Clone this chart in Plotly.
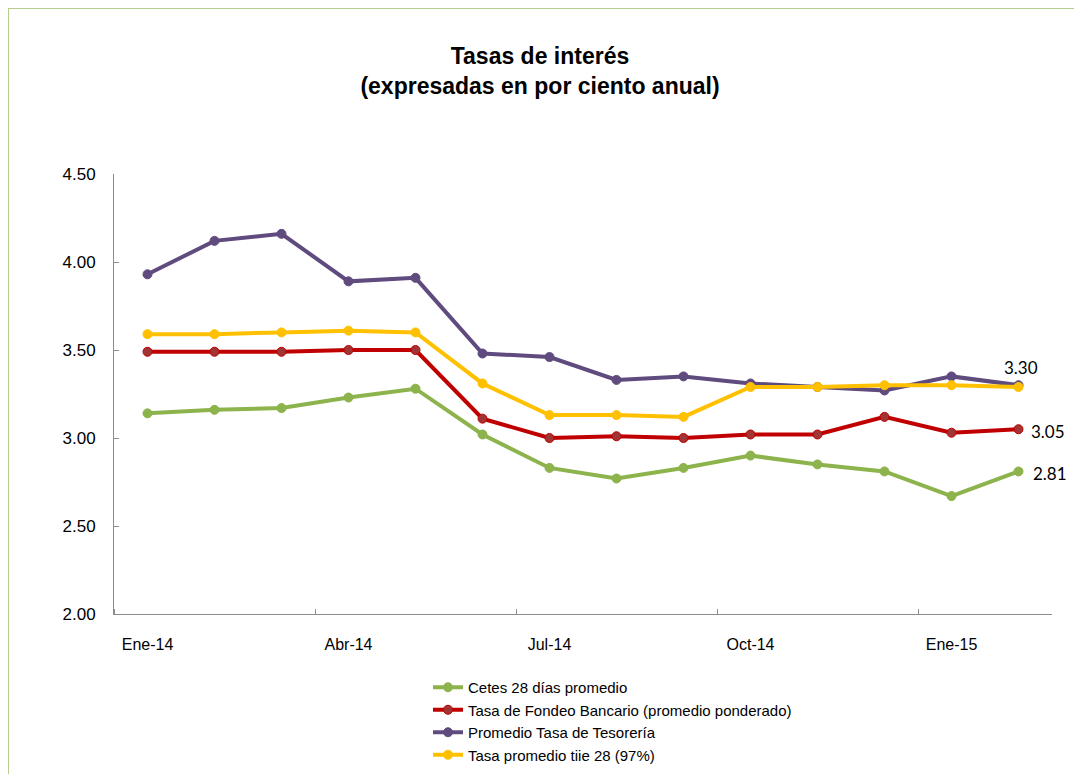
import plotly.graph_objects as go

categories = ["Ene-14", "Feb-14", "Mar-14", "Abr-14", "May-14", "Jun-14", "Jul-14",
              "Ago-14", "Sep-14", "Oct-14", "Nov-14", "Dic-14", "Ene-15", "Feb-15"]
cetes = [3.14, 3.16, 3.17, 3.23, 3.28, 3.02, 2.83, 2.77, 2.83, 2.90, 2.85, 2.81, 2.67, 2.81]
fondeo = [3.49, 3.49, 3.49, 3.50, 3.50, 3.11, 3.00, 3.01, 3.00, 3.02, 3.02, 3.12, 3.03, 3.05]
tesoreria = [3.93, 4.12, 4.16, 3.89, 3.91, 3.48, 3.46, 3.33, 3.35, 3.31, 3.29, 3.27, 3.35, 3.30]
tiie = [3.59, 3.59, 3.60, 3.61, 3.60, 3.31, 3.13, 3.13, 3.12, 3.29, 3.29, 3.30, 3.30, 3.29]
names = ["Cetes 28 días promedio",
         "Tasa de Fondeo Bancario (promedio ponderado)",
         "Promedio Tasa de Tesorería",
         "Tasa promedio tiie 28 (97%)"]
y_ticks = [2.0, 2.5, 3.0, 3.5, 4.0, 4.5]
tick_every = 3

x = list(range(len(categories)))
FONT = "Liberation Sans, Arial, sans-serif"

W, H = 1074, 766          # page body has an 8px default margin
L, R, T, B = 106, 30, 166, 160
PW, PH = W - L - R, H - T - B

fig = go.Figure()
series = [
    (cetes, names[0], "#8DB34C", "#8DB34C"),
    (fondeo, names[1], "#C00000", "#A13434"),
    (tesoreria, names[2], "#5F4B7E", "#5F4B7E"),
    (tiie, names[3], "#FFC000", "#FFC000"),
]
for vals, name, lc, mc in series:
    fig.add_trace(go.Scatter(
        x=x, y=vals, name=name, mode="lines+markers",
        line=dict(color=lc, width=4),
        marker=dict(color=mc, size=9, line=dict(color=lc, width=1)),
    ))

lab_font = dict(family="Lato, sans-serif", size=17, color="#000")
fig.add_annotation(x=x[-1], y=tesoreria[-1], text=f"{tesoreria[-1]:.2f}", showarrow=False,
                   xanchor="center", yanchor="bottom", yshift=5, xshift=2, font=lab_font)
fig.add_annotation(x=x[-1], y=fondeo[-1], text=f"{fondeo[-1]:.2f}", showarrow=False,
                   xanchor="left", yanchor="middle", xshift=10, yshift=-2, font=lab_font)
fig.add_annotation(x=x[-1], y=cetes[-1], text=f"{cetes[-1]:.2f}", showarrow=False,
                   xanchor="left", yanchor="middle", xshift=12, yshift=-2, font=lab_font)

# chart border (only top/left visible in the reference)
fig.add_shape(type="rect", xref="paper", yref="paper",
              x0=(0 - L) / PW, x1=1.2, y0=-1.0, y1=(PH + T) / PH,
              line=dict(color="#B5CC8A", width=2), fillcolor="rgba(0,0,0,0)", layer="below")

fig.update_layout(
    width=W, height=H,
    margin=dict(l=L, r=R, t=T, b=B, autoexpand=False),
    paper_bgcolor="white", plot_bgcolor="white",
    title=dict(text="<b>Tasas de interés<br>(expresadas en por ciento anual)</b>",
               x=(540 - 8) / W, xref="container", xanchor="center", y=1 - 56 / H, yanchor="top",
               font=dict(family="Liberation Sans, Arial", size=23, color="#000")),
    font=dict(family=FONT, size=14, color="#000"),
    showlegend=True,
    legend=dict(x=(420 - L) / PW, xanchor="left", y=-(663 - T - PH) / PH, yanchor="top",
                orientation="v", font=dict(family=FONT, size=15, color="#000"),
                tracegroupgap=0, itemwidth=30, bgcolor="rgba(0,0,0,0)"),
    xaxis=dict(range=[-0.5, len(categories) - 0.5], showgrid=False, zeroline=False,
               showline=True, linecolor="#8C8C8C", linewidth=1,
               tickmode="array", tickvals=x[::tick_every], ticktext=categories[::tick_every],
               ticks="", ticklabelstandoff=16,
               tickfont=dict(family=FONT, size=16, color="#000"),
               minor=dict(tickmode="array",
                          tickvals=[i - 0.5 for i in x[::tick_every]],
                          ticks="inside", ticklen=5, tickcolor="#8C8C8C", showgrid=False)),
    yaxis=dict(range=[2.0, 4.5], showgrid=False, zeroline=False,
               showline=True, linecolor="#8C8C8C", linewidth=1,
               tickmode="array", tickvals=y_ticks, ticktext=[f"{v:.2f}" for v in y_ticks],
               ticks="inside", ticklen=5, tickcolor="#8C8C8C",
               ticklabelstandoff=14,
               tickfont=dict(family=FONT, size=17, color="#000")),
)

fig.write_html("out.html")
